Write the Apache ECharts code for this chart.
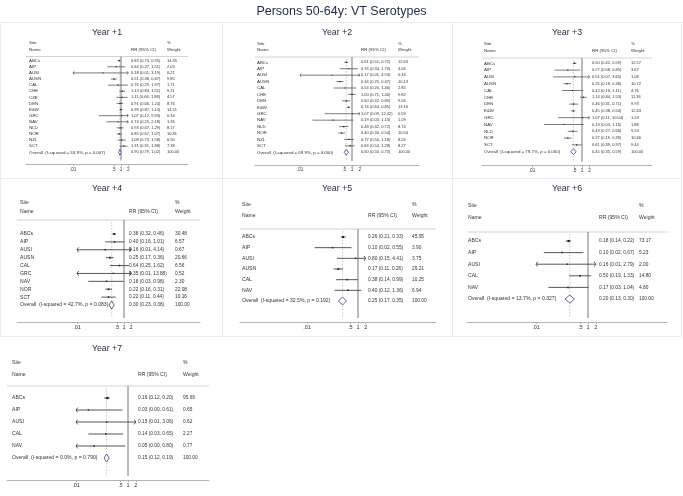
<!DOCTYPE html>
<html>
<head>
<meta charset="utf-8">
<title>Persons 50-64y: VT Serotypes</title>
<script src="https://cdn.jsdelivr.net/npm/echarts@6/dist/echarts.min.js"></script>
<style>
  html, body { margin: 0; padding: 0; background: #fff; }
  #chart { width: 683px; height: 496px; }
</style>
</head>
<body>
<div id="chart"></div>
<script>
// axis ticks (RR, log scale)
var tickValues = [0.01, 0.5, 1, 2];
var tickLabels = ['.01', '.5', '1', '2'];
var axisMin = 0.01, axisMax = 2;

// Year +1
var y1Sites = ['ABCs', 'AIP', 'AUSI', 'AUSN', 'CAL', 'CHE', 'CZE', 'DEN', 'E&W', 'GRC', 'NAV', 'NLD', 'NOR', 'NZL', 'SCT'];
var y1Rr = [0.83, 0.64, 0.18, 0.51, 0.76, 1.13, 1.11, 0.91, 0.99, 1.07, 0.74, 0.93, 0.85, 1.08, 1.31];
var y1Lo = [0.73, 0.27, 0.01, 0.38, 0.29, 0.84, 0.66, 0.66, 0.87, 0.12, 0.25, 0.67, 0.67, 0.73, 0.91];
var y1Hi = [0.95, 1.51, 3.19, 0.67, 1.97, 1.51, 1.88, 1.24, 1.13, 9.93, 2.18, 1.29, 1.07, 1.58, 1.88];
var y1Wt = [14.35, 2.03, 0.21, 9.85, 1.71, 9.21, 4.57, 8.76, 14.51, 0.34, 1.36, 8.17, 10.81, 6.90, 7.38];

// Year +2
var y2Sites = ['ABCs', 'AIP', 'AUSI', 'AUSN', 'CAL', 'CHE', 'DEN', 'E&W', 'GRC', 'NAV', 'NLD', 'NOR', 'NZL', 'SCT'];
var y2Rr = [0.61, 0.76, 0.17, 0.34, 0.54, 1.00, 0.60, 0.74, 1.07, 0.19, 0.48, 0.40, 0.77, 0.84];
var y2Lo = [0.51, 0.34, 0.01, 0.25, 0.20, 0.71, 0.42, 0.64, 0.09, 0.03, 0.32, 0.30, 0.50, 0.54];
var y2Hi = [0.72, 1.70, 4.53, 0.47, 1.46, 1.40, 0.85, 0.85, 12.42, 1.13, 0.72, 0.54, 1.18, 1.28];
var y2Wt = [12.63, 4.06, 0.34, 10.13, 2.85, 9.82, 9.56, 13.16, 0.59, 1.09, 8.74, 10.54, 8.24, 8.27];

// Year +3
var y3Sites = ['ABCs', 'AIP', 'AUSI', 'AUSN', 'CAL', 'CHE', 'DEN', 'E&W', 'GRC', 'NAV', 'NLD', 'NOR', 'SCT'];
var y3Rr = [0.50, 0.27, 0.51, 0.25, 0.42, 1.14, 0.46, 0.45, 1.07, 0.19, 0.43, 0.27, 0.61];
var y3Lo = [0.42, 0.08, 0.07, 0.18, 0.16, 0.84, 0.31, 0.38, 0.11, 0.03, 0.27, 0.19, 0.39];
var y3Hi = [0.59, 0.85, 3.65, 0.36, 1.11, 1.53, 0.71, 0.54, 10.04, 1.16, 0.66, 0.39, 0.97];
var y3Wt = [12.57, 3.67, 1.08, 10.72, 4.76, 11.36, 9.93, 12.63, 1.24, 1.88, 9.53, 10.66, 9.44];

// Year +4
var y4Sites = ['ABCs', 'AIP', 'AUSI', 'AUSN', 'CAL', 'GRC', 'NAV', 'NOR', 'SCT'];
var y4Rr = [0.38, 0.40, 0.16, 0.25, 0.64, 0.35, 0.18, 0.22, 0.22];
var y4Lo = [0.32, 0.16, 0.01, 0.17, 0.25, 0.01, 0.03, 0.16, 0.11];
var y4Hi = [0.46, 1.01, 4.14, 0.36, 1.62, 13.88, 0.98, 0.31, 0.44];
var y4Wt = [30.48, 6.57, 0.67, 20.66, 6.56, 0.52, 2.30, 22.08, 10.16];

// Year +5
var y5Sites = ['ABCs', 'AIP', 'AUSI', 'AUSN', 'CAL', 'NAV'];
var y5Rr = [0.26, 0.10, 0.80, 0.17, 0.38, 0.40];
var y5Lo = [0.21, 0.02, 0.15, 0.11, 0.14, 0.12];
var y5Hi = [0.33, 0.55, 4.41, 0.26, 0.99, 1.36];
var y5Wt = [45.95, 3.90, 3.75, 29.21, 10.25, 6.94];

// Year +6
var y6Sites = ['ABCs', 'AIP', 'AUSI', 'CAL', 'NAV'];
var y6Rr = [0.18, 0.10, 0.16, 0.50, 0.17];
var y6Lo = [0.14, 0.02, 0.01, 0.19, 0.03];
var y6Hi = [0.22, 0.67, 2.79, 1.33, 1.04];
var y6Wt = [73.17, 5.23, 2.00, 14.80, 4.80];

// Year +7
var y7Sites = ['ABCs', 'AIP', 'AUSI', 'CAL', 'NAV'];
var y7Rr = [0.16, 0.03, 0.15, 0.14, 0.05];
var y7Lo = [0.12, 0.00, 0.01, 0.03, 0.00];
var y7Hi = [0.20, 0.61, 3.06, 0.65, 0.80];
var y7Wt = [95.69, 0.65, 0.62, 2.27, 0.77];

// pooled estimates: [RR, lower, upper]
var overallRr = [[0.90, 0.79, 1.02], [0.60, 0.50, 0.73], [0.45, 0.35, 0.59], [0.30, 0.23, 0.38],
                 [0.25, 0.17, 0.35], [0.20, 0.13, 0.30], [0.15, 0.12, 0.19]];
var iSquared = [53.9, 69.9, 79.7, 42.7, 32.5, 13.7, 0.0];
var pHet = ['0.007', '0.000', '0.000', '0.083', '0.192', '0.327', '0.790'];
var panelTitles = ['Year +1', 'Year +2', 'Year +3', 'Year +4', 'Year +5', 'Year +6', 'Year +7'];

var panels = [
  { sites: y1Sites, rr: y1Rr, lo: y1Lo, hi: y1Hi, wt: y1Wt },
  { sites: y2Sites, rr: y2Rr, lo: y2Lo, hi: y2Hi, wt: y2Wt },
  { sites: y3Sites, rr: y3Rr, lo: y3Lo, hi: y3Hi, wt: y3Wt },
  { sites: y4Sites, rr: y4Rr, lo: y4Lo, hi: y4Hi, wt: y4Wt },
  { sites: y5Sites, rr: y5Rr, lo: y5Lo, hi: y5Hi, wt: y5Wt },
  { sites: y6Sites, rr: y6Rr, lo: y6Lo, hi: y6Hi, wt: y6Wt },
  { sites: y7Sites, rr: y7Rr, lo: y7Lo, hi: y7Hi, wt: y7Wt }
];

// where each small plot sits (pixels)
var small = { fs: 4.4, nfs: 4.0, tfs: 4.7, dh: 2.8, box: 1.4, lw: 0.7, arrow: 1.6 };
var big = { fs: 5.1, nfs: 4.8, tfs: 5.5, dh: 4, box: 1.8, lw: 0.9, arrow: 2.4 };
var layouts = [
  { cx: 107, ty: 33, names: 29, rrX: 131, wtX: 167, axL: 26, axR: 188, nullX: 121, ppd: 24, row0: 60.7, lastY: 152.3, axisY: 164.5, siteY: 43, nameY: 49.5, hdr: 56.5, s: small },
  { cx: 337, ty: 33, names: 257, rrX: 361, wtX: 398, axL: 255, axR: 419, nullX: 352, ppd: 26, row0: 62.3, lastY: 152.3, axisY: 165, siteY: 43.5, nameY: 50, hdr: 57, s: small },
  { cx: 567, ty: 33, names: 484, rrX: 592, wtX: 631, axL: 482, axR: 652, nullX: 582, ppd: 25, row0: 63.3, lastY: 151.7, axisY: 165.7, siteY: 44, nameY: 50.7, hdr: 58, s: small },
  { cx: 107, ty: 189, names: 20, rrX: 129, wtX: 175, axL: 17, axR: 200, nullX: 124, ppd: 23.5, row0: 234, lastY: 305, axisY: 322, siteY: 203, nameY: 211.5, hdr: 220, s: big },
  { cx: 337, ty: 189, names: 242, rrX: 368, wtX: 412, axL: 240, axR: 436, nullX: 358, ppd: 25.5, row0: 237, lastY: 301, axisY: 322, siteY: 205, nameY: 216, hdr: 229, s: big },
  { cx: 567, ty: 189, names: 468, rrX: 599, wtX: 639, axL: 467, axR: 667, nullX: 588, ppd: 26, row0: 241, lastY: 299, axisY: 322, siteY: 206, nameY: 218, hdr: 232, s: big },
  { cx: 107, ty: 349, names: 12, rrX: 138, wtX: 183, axL: 7, axR: 209, nullX: 128, ppd: 26, row0: 398, lastY: 458, axisY: 480, siteY: 363, nameY: 375, hdr: 386, s: big }
];

var FONT = '"Liberation Sans", Arial, sans-serif';
var TXT = '#333';

function f2(v) { return v.toFixed(2); }

function textEl(s, x, y, size) {
  return { type: 'text', x: x, y: y, silent: true,
    style: { text: s, fill: TXT, fontSize: size, fontFamily: FONT, align: 'left', verticalAlign: 'middle' } };
}

function frameRenderer(k) {
  var lay = layouts[k], st = lay.s;
  return function (params, api) {
    var xNull = api.coord([0, 0])[0];
    var xPool = api.coord([Math.log10(overallRr[k][0]), 0])[0];
    var yBot = lay.axisY - 4;
    return { type: 'group', children: [
      { type: 'line', shape: { x1: lay.axL, y1: lay.hdr, x2: lay.axR, y2: lay.hdr }, style: { stroke: '#c8c8c8', lineWidth: 0.8 } },
      { type: 'line', shape: { x1: xNull, y1: lay.hdr, x2: xNull, y2: yBot }, style: { stroke: '#555', lineWidth: 0.8 } },
      { type: 'line', shape: { x1: xPool, y1: lay.hdr + 2, x2: xPool, y2: yBot }, style: { stroke: '#dba0a0', lineWidth: 0.7, lineDash: [1.5, 1.5] } },
      textEl('Site', lay.names, lay.siteY, st.fs),
      textEl('Name', lay.names, lay.nameY, st.fs),
      textEl('RR (95% CI)', lay.rrX, lay.nameY, st.fs),
      textEl('%', lay.wtX, lay.siteY, st.fs),
      textEl('Weight', lay.wtX, lay.nameY, st.fs)
    ] };
  };
}

function rowRenderer(k) {
  var lay = layouts[k], st = lay.s, pd = panels[k], n = pd.sites.length;
  return function (params, api) {
    var i = params.dataIndex;
    var row = api.value(0), rr = api.value(1), lo = api.value(2), hi = api.value(3), wt = api.value(4);
    var pL = api.coord([Math.log10(Math.max(lo, axisMin)), row]);
    var pH = api.coord([Math.log10(Math.min(hi, axisMax)), row]);
    var pE = api.coord([Math.log10(rr), row]);
    var y = pE[1];
    var kids = [];
    if (i === n) {
      kids.push({ type: 'polygon', shape: { points: [[pL[0], y], [pE[0], y - st.dh], [pH[0], y], [pE[0], y + st.dh]] },
        style: { fill: '#fff', stroke: '#3a3a8c', lineWidth: 0.8 } });
      kids.push(textEl('Overall  (I-squared = ' + iSquared[k].toFixed(1) + '%, p = ' + pHet[k] + ')', lay.names, y, st.fs));
    } else {
      kids.push({ type: 'line', shape: { x1: pL[0], y1: y, x2: pH[0], y2: y }, style: { stroke: '#444', lineWidth: st.lw } });
      var a = st.arrow;
      if (lo <= axisMin) {
        kids.push({ type: 'polyline', shape: { points: [[pL[0] + a * 0.7, y - a], [pL[0], y], [pL[0] + a * 0.7, y + a]] },
          style: { stroke: '#444', fill: null, lineWidth: st.lw } });
      }
      if (hi > axisMax) {
        kids.push({ type: 'polyline', shape: { points: [[pH[0] - a * 0.7, y - a], [pH[0], y], [pH[0] - a * 0.7, y + a]] },
          style: { stroke: '#444', fill: null, lineWidth: st.lw } });
      }
      var b = st.box * (0.7 + 0.6 * Math.sqrt(wt / 100));
      kids.push({ type: 'rect', shape: { x: pE[0] - b / 2, y: y - b / 2, width: b, height: b }, style: { fill: '#222' } });
      kids.push(textEl(pd.sites[i], lay.names, y, st.fs));
    }
    kids.push(textEl(f2(rr) + ' (' + f2(lo) + ', ' + f2(hi) + ')', lay.rrX, y, st.nfs));
    kids.push(textEl(f2(wt), lay.wtX, y, st.nfs));
    return { type: 'group', children: kids };
  };
}

var tickLog = tickValues.map(function (v) { return Math.log10(v); });

var grids = [], xAxes = [], yAxes = [], series = [];
var graphics = [
  { type: 'line', shape: { x1: 0, y1: 22.5, x2: 683, y2: 22.5 }, style: { stroke: '#ececec', lineWidth: 1 } },
  { type: 'rect', shape: { x: 0.5, y: 22.5, width: 222, height: 156 }, style: { fill: null, stroke: '#ececec' } },
  { type: 'rect', shape: { x: 222.5, y: 22.5, width: 230, height: 156 }, style: { fill: null, stroke: '#ececec' } },
  { type: 'rect', shape: { x: 452.5, y: 22.5, width: 229, height: 156 }, style: { fill: null, stroke: '#ececec' } },
  { type: 'rect', shape: { x: 0.5, y: 178.5, width: 222, height: 158 }, style: { fill: null, stroke: '#ececec' } },
  { type: 'rect', shape: { x: 222.5, y: 178.5, width: 230, height: 158 }, style: { fill: null, stroke: '#ececec' } },
  { type: 'rect', shape: { x: 452.5, y: 178.5, width: 229, height: 158 }, style: { fill: null, stroke: '#ececec' } },
  { type: 'text', x: 341.5, y: 12, style: { text: 'Persons 50-64y: VT Serotypes', fill: '#1e2a4c', fontSize: 12.5, fontFamily: FONT, align: 'center', verticalAlign: 'middle' } }
];

panels.forEach(function (pd, k) {
  var lay = layouts[k], st = lay.s;
  var n = pd.sites.length;
  var step = (lay.lastY - lay.row0) / n;
  grids.push({ left: lay.axL, top: lay.row0, width: lay.axR - lay.axL, height: lay.axisY - lay.row0 });
  xAxes.push({
    gridIndex: k, type: 'value',
    min: (lay.axL - lay.nullX) / lay.ppd, max: (lay.axR - lay.nullX) / lay.ppd,
    axisLine: { show: true, onZero: false, lineStyle: { color: '#b4b4b4', width: 1 } },
    axisTick: { show: true, customValues: tickLog, length: 2, lineStyle: { color: '#b4b4b4' } },
    axisLabel: {
      show: true, customValues: tickLog, margin: 2.5, fontSize: st.tfs, fontFamily: FONT, color: TXT,
      formatter: function (v) {
        for (var j = 0; j < tickLog.length; j++) { if (Math.abs(tickLog[j] - v) < 1e-6) return tickLabels[j]; }
        return '';
      }
    },
    splitLine: { show: false }
  });
  yAxes.push({ gridIndex: k, type: 'value', inverse: true, min: 0, max: (lay.axisY - lay.row0) / step, show: false });

  var rows = pd.sites.map(function (s, i) { return [i, pd.rr[i], pd.lo[i], pd.hi[i], pd.wt[i]]; });
  rows.push([n, overallRr[k][0], overallRr[k][1], overallRr[k][2], 100]);

  series.push({ type: 'custom', xAxisIndex: k, yAxisIndex: k, clip: false, silent: true,
    data: [[0, 0]], encode: { x: 1, y: 0 }, renderItem: frameRenderer(k) });
  series.push({ type: 'custom', xAxisIndex: k, yAxisIndex: k, clip: false, silent: true,
    data: rows, encode: { x: 1, y: 0 }, renderItem: rowRenderer(k) });

  graphics.push({ type: 'text', x: lay.cx, y: lay.ty, style: { text: panelTitles[k], fill: '#26304d', fontSize: 8.8, fontFamily: FONT, align: 'center', verticalAlign: 'middle' } });
});

var chart = echarts.init(document.getElementById('chart'));
chart.setOption({
  animation: false,
  backgroundColor: '#fff',
  grid: grids,
  xAxis: xAxes,
  yAxis: yAxes,
  graphic: graphics,
  series: series
});
</script>
</body>
</html>
